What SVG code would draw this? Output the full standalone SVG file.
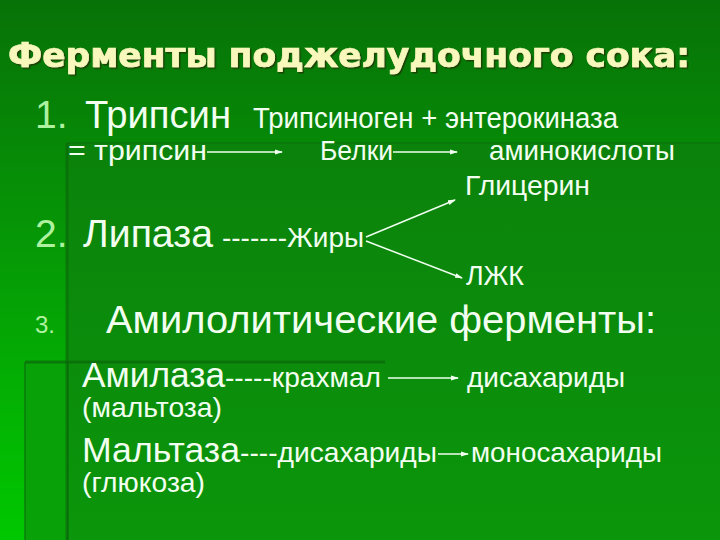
<svg xmlns="http://www.w3.org/2000/svg" width="720" height="540" viewBox="0 0 720 540">
<defs>
<linearGradient id="bg" x1="0" y1="0" x2="0" y2="1">
<stop offset="0" stop-color="#077207"/>
<stop offset="0.45" stop-color="#069806"/>
<stop offset="1" stop-color="#00c800"/>
</linearGradient>
<linearGradient id="panelA" x1="0" y1="0" x2="0" y2="1">
<stop offset="0" stop-color="#0b820b"/>
<stop offset="1" stop-color="#0b960b"/>
</linearGradient>
<filter id="shadow" x="-5%" y="-20%" width="110%" height="150%">
<feDropShadow dx="1.5" dy="1.5" stdDeviation="0.6" flood-color="#1c3a06" flood-opacity="0.9"/>
</filter>
<marker id="arr" markerUnits="userSpaceOnUse" markerWidth="8" markerHeight="6" refX="7" refY="3" orient="auto">
<path d="M0,0.5 L8,3 L0,5.5 z" fill="#f0fff0"/>
</marker>
<style>
text{font-family:"Liberation Sans",Arial,sans-serif;fill:#f2fff0}
.num{fill:#aef2a0}
.title{font-family:"DejaVu Sans","Liberation Sans",sans-serif;font-weight:bold;fill:#f8f8bc;stroke:#f8f8bc;stroke-width:0.7;font-size:33px}
.big{font-size:39px}
.mid{font-size:35px}
.small{font-size:28px}
.conn{stroke:#f0fff0;stroke-width:1.5;fill:none;marker-end:url(#arr)}
</style>
</defs>
<g id="background">
<rect width="720" height="540" fill="url(#bg)"/>
<rect x="67" y="143" width="653" height="397" fill="url(#panelA)"/>
<line x1="67" y1="143" x2="720" y2="143" stroke="#0a6c0a" stroke-width="2" opacity="0.45"/>
<line x1="67" y1="143" x2="67" y2="540" stroke="#0a640a" stroke-width="3" opacity="0.6"/>
<rect x="25" y="362" width="42" height="178" fill="#08a208"/>
<line x1="25" y1="362" x2="385" y2="362" stroke="#0a660a" stroke-width="3" opacity="0.7"/>
<line x1="25" y1="362" x2="25" y2="540" stroke="#0a700a" stroke-width="2" opacity="0.6"/>
<line x1="67" y1="362" x2="67" y2="540" stroke="#0a640a" stroke-width="3" opacity="0.6"/>
</g>
<g id="title">
<text class="title" x="8" y="67" textLength="682" lengthAdjust="spacingAndGlyphs" filter="url(#shadow)">Ферменты поджелудочного сока:</text>
</g>
<g id="item1">
<text class="num big" x="35" y="128">1.</text>
<text class="big" x="85" y="128" textLength="146" lengthAdjust="spacingAndGlyphs">Трипсин</text>
<text x="253" y="128" font-size="29" textLength="365" lengthAdjust="spacingAndGlyphs">Трипсиноген + энтерокиназа</text>
<text class="small" x="68" y="160" textLength="139" lengthAdjust="spacingAndGlyphs">= трипсин</text>
<text class="small" x="320" y="160" textLength="73" lengthAdjust="spacingAndGlyphs">Белки</text>
<text class="small" x="489" y="160" textLength="186" lengthAdjust="spacingAndGlyphs">аминокислоты</text>
</g>
<g id="item2">
<text class="num big" x="35" y="247">2.</text>
<text class="big" x="83" y="247" textLength="130" lengthAdjust="spacingAndGlyphs">Липаза</text>
<text class="small" x="222" y="247" textLength="142" lengthAdjust="spacingAndGlyphs">-------Жиры</text>
<text class="small" x="465" y="195" textLength="125" lengthAdjust="spacingAndGlyphs">Глицерин</text>
<text class="small" x="466" y="285" textLength="58" lengthAdjust="spacingAndGlyphs">ЛЖК</text>
</g>
<g id="item3">
<text class="num" x="35" y="333" font-size="24">3.</text>
<text x="106" y="333" font-size="38" textLength="550" lengthAdjust="spacingAndGlyphs">Амилолитические ферменты:</text>
</g>
<g id="amylase">
<text x="82" y="387"><tspan class="mid" textLength="143" lengthAdjust="spacingAndGlyphs">Амилаза</tspan><tspan class="small" textLength="156" lengthAdjust="spacingAndGlyphs">-----крахмал</tspan></text>
<text class="small" x="467" y="387" textLength="158" lengthAdjust="spacingAndGlyphs">дисахариды</text>
<text class="small" x="82" y="417" textLength="140" lengthAdjust="spacingAndGlyphs">(мальтоза)</text>
</g>
<g id="maltase">
<text x="82" y="462"><tspan class="mid" textLength="158" lengthAdjust="spacingAndGlyphs">Мальтаза</tspan><tspan class="small" textLength="197" lengthAdjust="spacingAndGlyphs">----дисахариды</tspan></text>
<text class="small" x="471" y="462" textLength="191" lengthAdjust="spacingAndGlyphs">моносахариды</text>
<text class="small" x="82" y="492" textLength="123" lengthAdjust="spacingAndGlyphs">(глюкоза)</text>
</g>
<g id="connectors">
<line class="conn" x1="207" y1="152" x2="282" y2="152"/>
<line class="conn" x1="393" y1="152" x2="457" y2="152"/>
<line class="conn" x1="366" y1="237" x2="455" y2="200"/>
<line class="conn" x1="366" y1="241" x2="462" y2="278"/>
<line class="conn" x1="388" y1="378" x2="458" y2="378"/>
<line class="conn" x1="438" y1="454" x2="468" y2="454"/>
</g>
</svg>
